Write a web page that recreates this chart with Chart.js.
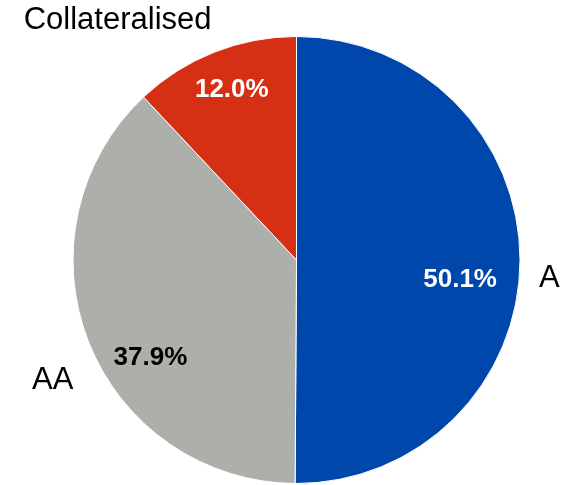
<!DOCTYPE html>
<html>
<head>
<meta charset="utf-8">
<script src="https://cdn.jsdelivr.net/npm/chart.js@4/dist/chart.umd.min.js"></script>
<style>
  html, body { margin: 0; padding: 0; background: #ffffff; }
  #wrap { width: 566px; height: 485px; position: relative; }
</style>
</head>
<body>
<div id="wrap"><canvas id="pie"></canvas></div>
<script>
// Portfolio split by rating bucket
const categories = ["A", "AA", "Collateralised"];
const shares = [50.1, 37.9, 12.0];
const sliceColors = ["#0047ab", "#adb0aa", "#d53014"];
const valueTextColors = ["#ffffff", "#000000", "#ffffff"];

// label placement tweaks (pixels) relative to the slice mid-angle anchors
const valueOffsets = [[-4, 19], [10, 37], [-3, -14]];
const nameOffsets = [[-10, 26], [12, 37], [8, 4]];

const FONT = "'Liberation Sans', Arial, Helvetica, sans-serif";

const sliceLabels = {
  id: "sliceLabels",
  afterDatasetsDraw(chart) {
    const ctx = chart.ctx;
    const meta = chart.getDatasetMeta(0);
    meta.data.forEach((arc, i) => {
      const p = arc.getProps(["x", "y", "startAngle", "endAngle", "outerRadius"], true);
      const mid = (p.startAngle + p.endAngle) / 2;
      const cx = Math.cos(mid), cy = Math.sin(mid);

      // percentage inside the slice
      const ri = p.outerRadius * 0.75;
      ctx.save();
      ctx.font = "bold 26px " + FONT;
      ctx.fillStyle = valueTextColors[i];
      ctx.textAlign = "center";
      ctx.textBaseline = "middle";
      ctx.fillText(shares[i].toFixed(1) + "%", p.x + ri * cx + valueOffsets[i][0], p.y + ri * cy + valueOffsets[i][1]);

      // category name outside the pie
      const ro = p.outerRadius * 1.13;
      ctx.font = "31px " + FONT;
      ctx.fillStyle = "#000000";
      ctx.textAlign = cx >= 0 ? "left" : "right";
      ctx.textBaseline = "alphabetic";
      ctx.fillText(categories[i], p.x + ro * cx + nameOffsets[i][0], p.y + ro * cy + nameOffsets[i][1]);
      ctx.restore();
    });
  }
};

new Chart(document.getElementById("pie"), {
  type: "pie",
  data: {
    labels: categories,
    datasets: [{
      data: shares,
      backgroundColor: sliceColors,
      borderColor: "#ffffff",
      borderWidth: 1
    }]
  },
  options: {
    responsive: true,
    maintainAspectRatio: false,
    animation: false,
    layout: { padding: { left: 72, right: 45, top: 36, bottom: 1 } },
    plugins: {
      legend: { display: false },
      tooltip: { enabled: false }
    }
  },
  plugins: [sliceLabels]
});
</script>
</body>
</html>
